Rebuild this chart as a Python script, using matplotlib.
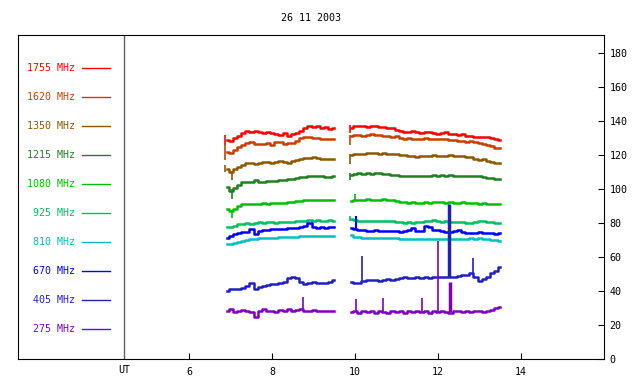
import numpy as np
import matplotlib
matplotlib.use('Agg')
import matplotlib.pyplot as plt

# time grid (UT hours) of the two recorded intervals
t1 = np.round(np.arange(6.9, 9.51, 0.1), 2)
t2 = np.round(np.arange(9.9, 13.51, 0.1), 2)

freqs = ['1755 MHz', '1620 MHz', '1350 MHz', '1215 MHz', '1080 MHz',
         '925 MHz', '810 MHz', '670 MHz', '405 MHz', '275 MHz']
colors = ['#ff0000', '#c84000', '#8b5a00', '#207f20', '#00c000',
          '#00c060', '#00c0c0', '#0000ff', '#2020c0', '#8000c0']

s1755_a = [129, 128.5, 130, 131.5, 133, 134, 133.5, 134, 133.5, 133, 133.5, 133, 132.5, 132,
           133, 131.5, 132.5, 133, 134.5, 136, 137, 136.5, 137, 136, 136.5, 135.5, 136]
s1755_b = [136, 137, 137, 137.5, 136.5, 137.5, 137, 136.5, 136.5, 136, 136, 135, 134, 133.5,
           133.5, 134, 133.5, 133, 133.5, 133.5, 133, 132.5, 133, 133.5, 132.5, 132.5, 132,
           132.5, 131.5, 131.5, 131, 131, 130.5, 130.5, 130, 129.5, 129]
s1620_a = [122, 121.5, 123, 125, 126, 127, 127.5, 126.5, 126.5, 126.5, 127, 126, 127.5, 128,
           126.5, 127, 127, 128.5, 130, 131, 130.5, 130, 130, 129.5, 129.5, 129.5, 129.5]
s1620_b = [131.5, 132, 132, 131.5, 132, 132.5, 132, 132, 131.5, 131.5, 131, 131.5, 130, 129.5,
           130, 129.5, 129.5, 129.5, 130, 129.5, 129.5, 129.5, 129.5, 129.5, 129, 129, 128.5,
           128.5, 128, 128.5, 127.5, 127, 126.5, 126, 125.5, 124.5, 124]
s1350_a = [112, 110, 112, 113, 114.5, 115.5, 115.5, 115, 115.5, 116, 116, 115.5, 116, 116.5,
           116, 115.5, 116.5, 117, 117.5, 118.5, 118.5, 119, 118.5, 118, 118, 118, 117.5]
s1350_b = [120, 120.5, 121, 120.5, 121.5, 121.5, 121.5, 121, 121.5, 121, 121, 120.5, 120, 120,
           119.5, 119.5, 119, 119.5, 119.5, 119.5, 120, 119.5, 119.5, 119.5, 120, 119.5, 119.5,
           119.5, 119, 119, 118, 117, 117.5, 116.5, 116, 115.5, 115.5]
s1215_a = [101, 99, 100.5, 102.5, 104, 104, 104.5, 105.5, 104.5, 104, 105, 105, 105, 105.5,
           105.5, 106, 106, 106.5, 107, 107, 107.5, 107.5, 107.5, 107.5, 107, 107, 107.5]
s1215_b = [108.5, 109, 109.5, 109, 109.5, 109, 109.5, 109.5, 109, 109, 108.5, 108.5, 108, 107.5,
           108, 107.5, 108, 107.5, 108, 108, 108.5, 108, 108.5, 108, 108.5, 108, 108, 108, 108,
           108, 107.5, 108, 107, 106.5, 106.5, 106, 106]
s1080_a = [88.5, 87, 88.5, 90, 91, 91, 91.5, 91.5, 91, 92, 91.5, 92, 92, 92, 92, 92.5, 92.5,
           93, 93, 93.5, 93.5, 93.5, 93.5, 93.5, 93.5, 93.5, 93.5]
s1080_b = [93, 93.5, 93.5, 93.5, 94, 93.5, 93.5, 93.5, 94, 93.5, 93.5, 93, 92.5, 92.5, 92, 92.5,
           92, 92, 92.5, 92, 92.5, 92.5, 92.5, 92, 92.5, 92, 92, 92.5, 92, 92, 92, 91.5, 92,
           91.5, 91.5, 91, 91]
s925_a = [78, 78, 78.5, 79.5, 79.5, 80, 79.5, 80, 80.5, 80, 80.5, 80.5, 80, 80.5, 80.5, 80.5,
          80.5, 81, 81, 81.5, 82, 81.5, 82, 81.5, 81.5, 82, 81.5]
s925_b = [82.5, 82, 81.5, 81.5, 81.5, 81.5, 81.5, 81.5, 81, 81, 81, 80.5, 80.5, 80, 80.5, 80,
          80.5, 80.5, 81, 81, 82, 81, 80.5, 81, 80.5, 80.5, 80.5, 80.5, 80, 80, 80.5, 81, 81,
          80.5, 80.5, 80, 80]
s810_a = [67.5, 68, 68.5, 69, 69.5, 70, 70.5, 70.5, 71, 71.5, 71.5, 71.5, 71.5, 72, 72, 72, 72,
          72, 72.5, 72.5, 72.5, 72.5, 72.5, 72.5, 72.5, 72.5, 72.5]
s810_b = [73, 72, 72, 71.5, 71.5, 71.5, 71.5, 71.5, 71, 71, 71, 71, 70.5, 70.5, 70.5, 70.5,
          70.5, 70.5, 70.5, 70.5, 70.5, 70.5, 70.5, 70.5, 70.5, 70.5, 70.5, 70.5, 70.5, 71,
          70.5, 71, 70.5, 70.5, 70, 70, 69.5]
s670_a = [71, 72.5, 73.5, 74, 74.5, 75, 76.5, 73.5, 75.5, 76, 76, 76.5, 76.5, 76.5, 76.5, 77,
          77, 77, 77.5, 78.5, 80, 77.5, 77, 77.5, 77, 77.5, 78]
s670_b = [77, 76.5, 76, 76, 75.5, 75.5, 76, 75.5, 75.5, 75.5, 75.5, 75.5, 75, 75.5, 76, 77,
          75.5, 75.5, 78.5, 77.5, 76, 76, 75.5, 75, 74.5, 75.5, 76, 75, 74, 74, 74, 74.5, 74,
          74, 74, 73.5, 74]
s405_a = [40, 41, 41, 41.5, 42, 43, 44.5, 41, 42.5, 43, 43.5, 44, 44, 44.5, 45.5, 47.5, 48.5,
          47.5, 45.5, 44, 45, 45.5, 45, 44.5, 45, 45.5, 46.5]
s405_b = [45.5, 45, 44.5, 46, 46.5, 46.5, 46.5, 46, 46.5, 47, 46.5, 47, 47.5, 48, 47.5, 47.5,
          48, 47.5, 48, 47.5, 48, 48, 48, 48.5, 48.5, 48, 49, 49.5, 49.5, 50.5, 48.5, 46, 47,
          48.5, 50.5, 52, 54]
s275_a = [28.5, 29.5, 27.5, 28, 29, 28.5, 27.5, 24.5, 28, 29.5, 28, 28.5, 27.5, 29, 28, 29.5,
          28.5, 29, 29.5, 28.5, 28.5, 29, 28, 28.5, 28, 28.5, 28.5]
s275_b = [27.5, 28, 27, 28.5, 27.5, 28, 27, 28.5, 27.5, 27, 28, 27.5, 28.5, 27, 28, 27.5, 28,
          27.5, 28.5, 27, 28, 27.5, 28, 27.5, 27, 28, 28.5, 27.5, 28, 27.5, 28.5, 28, 27.5,
          28.5, 29, 30, 30.5]

series_a = [s1755_a, s1620_a, s1350_a, s1215_a, s1080_a, s925_a, s810_a, s670_a, s405_a, s275_a]
series_b = [s1755_b, s1620_b, s1350_b, s1215_b, s1080_b, s925_b, s810_b, s670_b, s405_b, s275_b]

# short bursts / jumps: (series index, time, low, high, width)
spikes = [
    (0, 6.86, 126, 132, 1.2), (1, 6.86, 117, 127, 1.2), (2, 6.86, 110, 114, 1.2),
    (2, 7.02, 105.5, 111, 1.2), (3, 7.02, 94.5, 100, 1.2), (4, 7.02, 83, 88, 1.2),
    (0, 9.87, 133, 138, 1.2), (1, 9.87, 126, 132, 1.2), (2, 9.87, 115, 121, 1.2),
    (3, 9.87, 105.5, 109.5, 1.2), (5, 9.87, 81.5, 84, 1.2),
    (4, 10.0, 93, 97, 1.2), (7, 10.02, 76, 84.5, 1.5),
    (8, 10.17, 46, 60.5, 1.2), (8, 12.27, 48, 91.5, 2.5), (8, 12.85, 50, 59.5, 1.2),
    (9, 8.75, 28, 36.5, 1.2), (9, 10.03, 27.5, 35.5, 1.2), (9, 10.68, 27.5, 36, 1.2),
    (9, 11.61, 27.5, 36, 1.2), (9, 12.0, 27.5, 69.5, 1.2), (9, 12.28, 27.5, 45.5, 2.5),
]

plt.rcParams['font.family'] = ['DejaVu Sans Mono']
fig = plt.figure(figsize=(6.4, 3.84), dpi=100)
ax = fig.add_axes([18 / 640, 1 - 359 / 384, 586 / 640, 324 / 384])

for i, c in enumerate(colors):
    ax.plot(t1, series_a[i], color=c, lw=1.8, drawstyle='steps-mid')
    ax.plot(t2, series_b[i], color=c, lw=1.8, drawstyle='steps-mid')
for idx, t, lo, hi, w in spikes:
    ax.vlines(t, lo, hi, color=colors[idx], lw=w)

# legend column on the left
for i, (f, c) in enumerate(zip(freqs, colors)):
    y = 171.6 - 17.1 * i
    ax.text(3.24, y, f, color=c, ha='right', va='center', fontsize=7.2)
    ax.plot([3.41, 4.10], [y, y], color=c, lw=1)

ax.axvline(4.43, color='#606060', lw=1)
ax.set_xlim(1.87, 16.0)
ax.set_ylim(0, 190.8)
ax.set_xticks([6, 8, 10, 12, 14])
ax.set_yticks(range(0, 181, 20))
ax.tick_params(axis='x', direction='in', length=4, labelsize=7.2, pad=6)
ax.tick_params(axis='y', direction='in', length=4, labelsize=7.2, pad=4,
               left=False, labelleft=False, right=True, labelright=True)
ax.text(4.43, -0.034, 'UT', transform=ax.get_xaxis_transform(),
        ha='center', va='center', fontsize=7.2)
fig.text(311 / 640, 1 - 18 / 384, '26 11 2003', ha='center', va='center', fontsize=7.2)

plt.savefig('out.png', dpi=100)
